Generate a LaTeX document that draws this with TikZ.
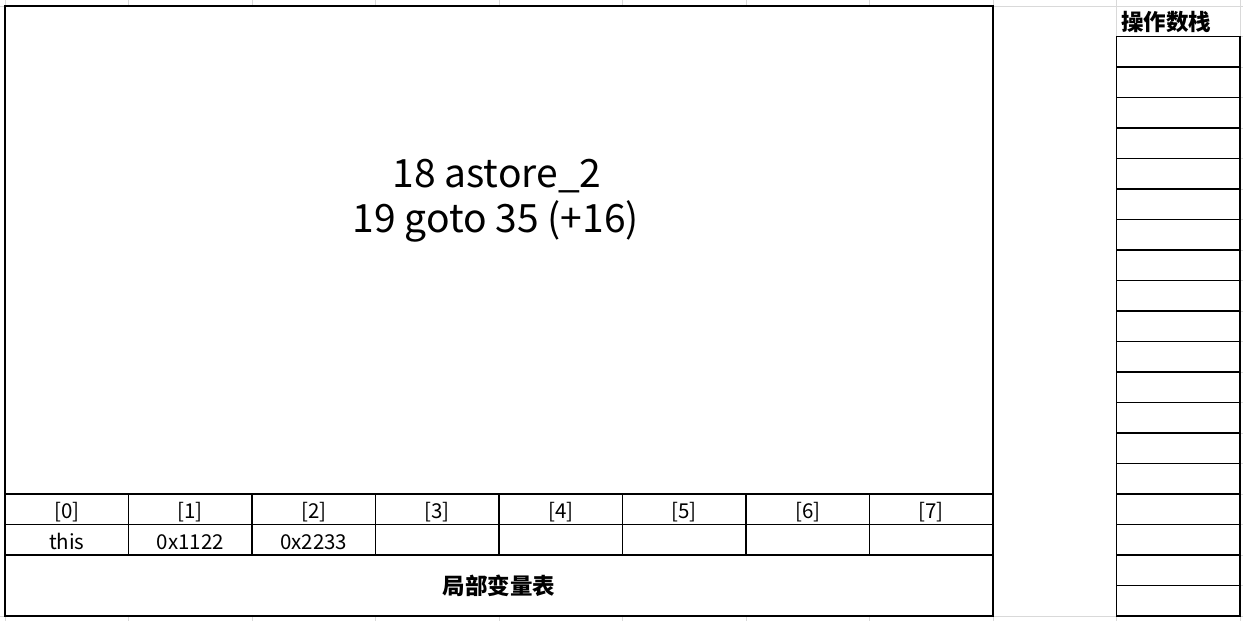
\documentclass[tikz,border=0pt]{standalone}
\usepackage{fontspec}
\setmainfont{Noto Sans CJK SC}
\usetikzlibrary{positioning}
\tikzset{
  gridline/.style={gray!30, line width=0.9pt},
  framebox/.style={draw, fill=white, line width=1.5pt, inner sep=0pt, outer sep=0pt},
  slotcell/.style={framebox, minimum width=123.5pt, minimum height=30.5pt,
    font=\fontsize{20.5}{24}\selectfont, text height=19pt, text depth=0pt},
  stackcell/.style={framebox, minimum width=123.5pt, minimum height=30.5pt},
  titletext/.style={font=\bfseries\fontsize{22.5}{27}\selectfont, inner sep=0pt},
  optext/.style={font=\fontsize{39}{45}\selectfont, anchor=base, inner sep=0pt}
}

\begin{document}
\begin{tikzpicture}[x=1pt, y=-1pt]
    \useasboundingbox (0,0) rectangle (1243,621);
    \foreach \k in {0,...,10}
      \draw[gridline] (5+123.5*\k,0) -- (5+123.5*\k,621);
    \draw[gridline] (0,6) -- (1243,6);
    \draw[gridline] (0,616) -- (1243,616);
    \foreach \r in {1,...,19}
      \draw[gridline] (1116.5,6+30.5*\r) -- (1243,6+30.5*\r);
    \node[framebox, minimum width=988pt, minimum height=488pt] (code) at (499,250) {};
    \node[optext] (op18) at (497,187) {18 astore\_2};
    \node[optext] (op19) at (496,232) {19 goto 35 (+16)};
    \foreach \i in {0,...,7}
      \node[slotcell] (idx\i) at (66.75+123.5*\i,509.25) {[\i]};
    \foreach \v [count=\i from 0] in {this,0x1122,0x2233,{},{},{},{},{}}
      \node[slotcell] (val\i) at (66.75+123.5*\i,539.75) {\v};
    \node[framebox, titletext, minimum width=988pt, minimum height=61pt] (locals) at (499,585.5) {局部变量表};
    \node[titletext, anchor=west] (stacktitle) at (1121,22) {操作数栈};
    \foreach \r in {1,...,19}
      \node[stackcell] (slot\r) at (1178.25,21.25+30.5*\r) {};
  \end{tikzpicture}
\end{document}
